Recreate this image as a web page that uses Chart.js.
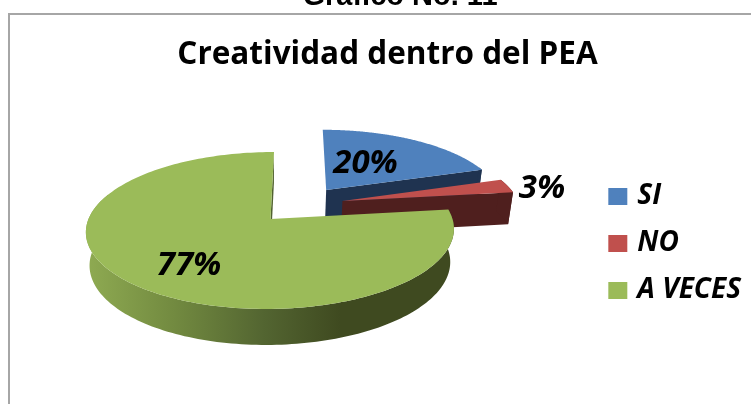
<!DOCTYPE html>
<html><head><meta charset="utf-8">
<style>html,body{margin:0;padding:0;background:#fff}#w{width:751px;height:404px;position:relative}</style>
<script src="https://cdn.jsdelivr.net/npm/chart.js@4"></script>
</head><body><div id="w"><canvas id="c" width="751" height="404"></canvas></div>
<script>
const categories = ["SI", "NO", "A VECES"];
const values = [20, 3, 77];
const valueLabels = ["20%", "3%", "77%"];
const sliceColors = ["#4F81BD", "#C0504D", "#9BBB59"];
const wallColors = ["#1F3350", "#4F1F1E", null];
const explodeU = [0.315, 0.404, 0];
const explodeV = [-0.40, -0.243, 0];
const labelX = [365.5, 542, 189];
const labelY = [164, 189, 266];
const chartTitle = "Creatividad dentro del PEA";
const headingText = "Gráfico No. 11";

const RX = 182, RY = 76.8, K = 0.1465, VX = 298, X0 = -27.5, AY = 219;
function project(u, v) {
  const w = 1 - K * v;
  return { x: VX + (RX * u + X0) / w, y: AY + RY * v / w };
}
function lower(p) {
  return { x: 269.5 + (p.x - 269.5) * 0.98, y: p.y + 32 + (p.y - 192) * 0.034 };
}
function rim(arc, i) {
  const eu = explodeU[i], ev = explodeV[i], pts = [];
  const n = 200;
  for (let j = 0; j <= n; j++) {
    const a = arc.startAngle + (arc.endAngle - arc.startAngle) * j / n;
    const p = project(eu + Math.cos(a), ev + Math.sin(a));
    p.front = Math.sin(a) > -0.35;
    pts.push(p);
  }
  return pts;
}
function tracePoly(ctx, pts) {
  ctx.beginPath();
  pts.forEach((p, j) => j ? ctx.lineTo(p.x, p.y) : ctx.moveTo(p.x, p.y));
  ctx.closePath();
}
const pie3d = {
  id: "pie3d",
  beforeDatasetDraw(chart, args) {
    const ctx = chart.ctx, arcs = args.meta.data;
    ctx.save();
    const g = ctx.createLinearGradient(85, 0, 340, 0);
    g.addColorStop(0, "#8FAB52");
    g.addColorStop(0.35, "#728A40");
    g.addColorStop(0.7, "#536531");
    g.addColorStop(1, "#3F4A20");
    arcs.forEach((arc, i) => {
      const edge = rim(arc, i), apex = project(explodeU[i], explodeV[i]);
      const last = edge[edge.length - 1];
      const front = edge.filter(p => p.front);
      ctx.fillStyle = wallColors[i] || g;
      tracePoly(ctx, [apex, last, lower(last), lower(apex)]);
      ctx.fill();
      tracePoly(ctx, front.concat(front.map(lower).reverse()));
      ctx.fill();
      tracePoly(ctx, [apex].concat(edge));
      ctx.fillStyle = sliceColors[i];
      ctx.fill();
    });
    ctx.restore();
    return false;
  },
  afterDraw(chart) {
    const ctx = chart.ctx;
    ctx.save();
    ctx.strokeStyle = "#A6A6A6"; ctx.lineWidth = 2;
    ctx.beginPath(); ctx.moveTo(9, 404); ctx.lineTo(9, 14); ctx.lineTo(751, 14); ctx.stroke();
    ctx.fillStyle = "#000"; ctx.textAlign = "center";
    ctx.textBaseline = "alphabetic";
    ctx.font = "bold 29px 'Liberation Sans'";
    ctx.fillText(headingText, 400, 5);
    ctx.textBaseline = "middle";
    ctx.font = "italic bold 33px 'Open Sans'";
    valueLabels.forEach((t, i) => ctx.fillText(t, labelX[i], labelY[i]));
    ctx.restore();
  }
};
new Chart(document.getElementById("c"), {
  type: "pie",
  data: { labels: categories, datasets: [{ data: values, backgroundColor: sliceColors, borderWidth: 0 }] },
  plugins: [pie3d],
  options: {
    responsive: false, animation: false,
    layout: { padding: { top: 36, right: 0, bottom: 0, left: 24 } },
    plugins: {
      title: { display: true, text: chartTitle, color: "#000", font: { family: "'Open Sans'", size: 31.5, weight: "bold" }, padding: { top: 0, bottom: 9 } },
      legend: {
        position: "right", fullSize: false,
        labels: {
          color: "#000", boxWidth: 11, boxHeight: 9, padding: 19,
          font: { family: "'Open Sans'", size: 28, style: "italic", weight: "bold" },
          generateLabels: () => categories.map((text, i) => ({
            text, fillStyle: sliceColors[i], strokeStyle: sliceColors[i], lineWidth: 8, fontColor: "#000", index: i, hidden: false
          }))
        }
      },
      tooltip: { enabled: false }
    }
  }
});
</script></body></html>
